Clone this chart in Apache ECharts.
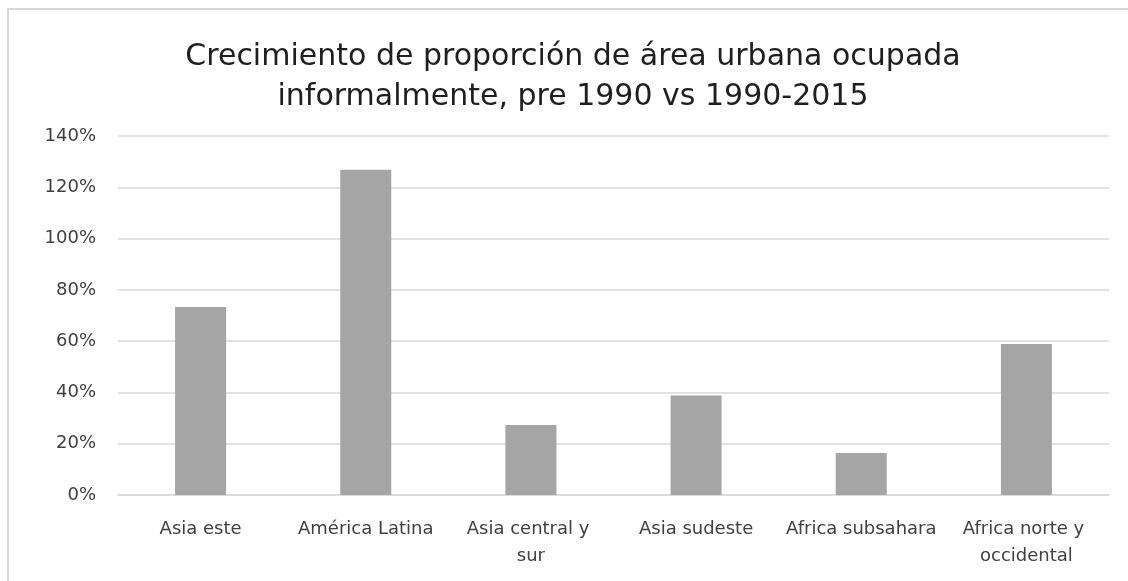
<!DOCTYPE html>
<html lang="es">
<head>
    <meta charset="UTF-8"/>
    <title>Crecimiento área urbana informal</title>
    <script src="https://cdn.jsdelivr.net/npm/echarts@6/dist/echarts.min.js"></script>
    <style>
        html, body { margin: 0; padding: 0; background: #fff; }
    </style>
</head>
<body>

<div id="main" style="width: 1128px;height:581px;"></div>

<script type="text/javascript">
    // datos
    var regiones = ['Asia este', 'América Latina', 'Asia central y sur', 'Asia sudeste', 'Africa subsahara', 'Africa norte y occidental'];
    var crecimiento = [73.3, 126.8, 27.3, 38.8, 16.4, 58.9];
    var ejeMin = 0, ejeMax = 140, ejePaso = 20;

    var fuente = 'DejaVu Sans';
    var myChart = echarts.init(document.getElementById('main'));

    var option = {
        backgroundColor: '#ffffff',
        animation: false,
        title: {
            text: 'Crecimiento de proporción de área urbana ocupada\ninformalmente, pre 1990 vs 1990-2015',
            left: 573,
            top: 37,
            padding: 0,
            textAlign: 'center',
            textStyle: {
                fontFamily: fuente,
                fontSize: 30,
                fontWeight: 'normal',
                lineHeight: 40,
                color: '#1f1f1f'
            }
        },
        graphic: [{
            type: 'rect',
            shape: { x: 8, y: 9, width: 1300, height: 800 },
            style: { fill: 'none', stroke: '#d9d9d9', lineWidth: 2 },
            silent: true
        }],
        grid: { left: 118, right: 19, top: 136, bottom: 86 },
        xAxis: {
            type: 'category',
            data: regiones,
            axisLine: { lineStyle: { color: '#d9d9d9', width: 1.5 } },
            axisTick: { show: false },
            axisLabel: {
                interval: 0,
                margin: 21,
                width: 154,
                overflow: 'break',
                lineHeight: 27,
                fontFamily: fuente,
                fontSize: 18,
                color: '#404040'
            }
        },
        yAxis: {
            type: 'value',
            min: ejeMin,
            max: ejeMax,
            interval: ejePaso,
            axisLine: { show: false },
            axisTick: { show: false },
            splitLine: { lineStyle: { color: '#d9d9d9', width: 1.5 } },
            axisLabel: {
                margin: 22,
                formatter: '{value}%',
                fontFamily: fuente,
                fontSize: 18,
                color: '#404040'
            }
        },
        series: [{
            name: 'Crecimiento',
            type: 'bar',
            data: crecimiento,
            barWidth: 51,
            itemStyle: { color: '#a5a5a5' }
        }]
    };

    myChart.setOption(option);
</script>
</body>
</html>
